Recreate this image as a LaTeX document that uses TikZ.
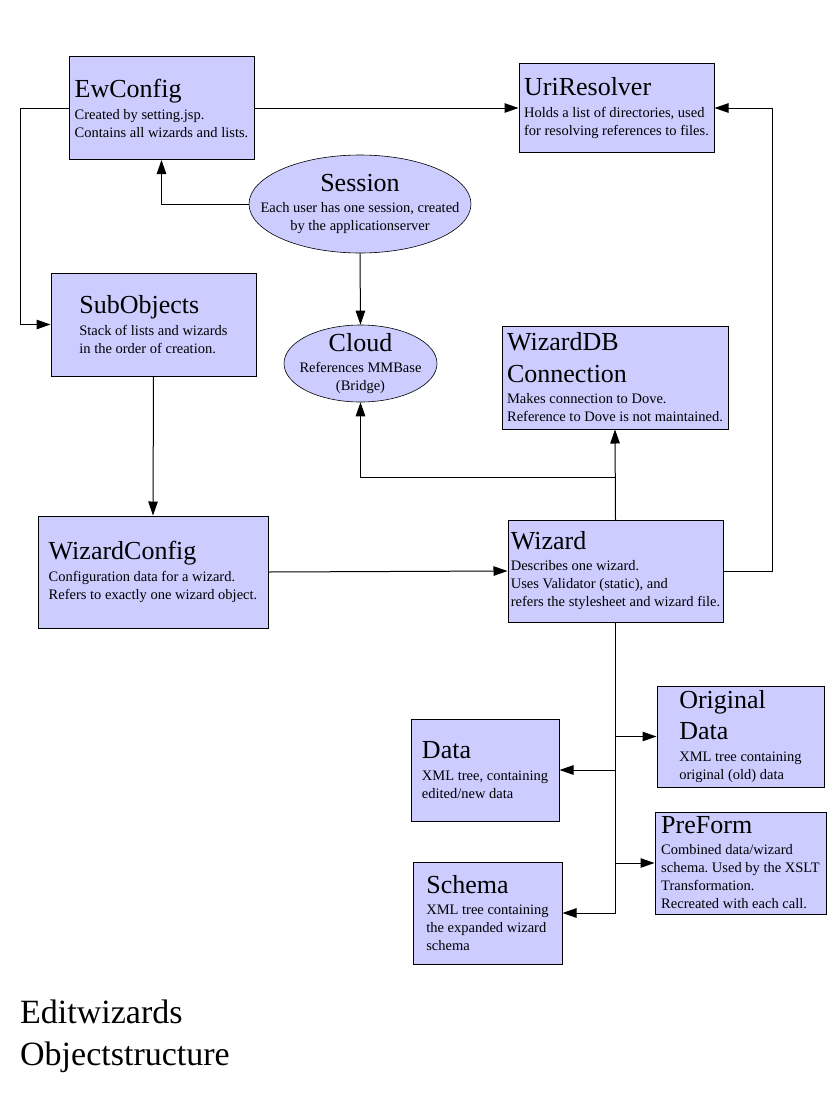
\documentclass[tikz,border=0pt]{standalone}
\usepackage{fontspec}
\setmainfont{Liberation Serif}
\usepackage{tikz}
\usetikzlibrary{positioning, arrows.meta, shapes.geometric, calc}
\definecolor{ink}{RGB}{0,0,0}
\definecolor{lavender}{RGB}{204,204,255}
\newcommand{\objtitle}[1]{{\fontsize{26}{32}\selectfont #1}}
\tikzset{
  box/.style    ={rectangle, draw=ink, line width=1pt, fill=lavender, inner sep=0pt,
                  align=left, font=\fontsize{14.5}{18}\selectfont},
  oval/.style   ={ellipse, draw=ink, line width=0.6pt, fill=lavender, inner sep=-25pt,
                  align=center, font=\fontsize{14.5}{18}\selectfont},
  arr/.style    ={->, >={Triangle[length=14pt, width=9.5pt]}, line width=1pt, color=ink},
  heading/.style={font=\fontsize{34}{42}\selectfont, align=left, inner sep=0pt, anchor=north west},
}

\begin{document}
\frenchspacing
\begin{tikzpicture}[x=1pt, y=-1pt]
\useasboundingbox (0,0) rectangle (839,1101);

\node[box, minimum width=185pt, minimum height=103pt] (ewconfig) at (161.5, 108)
  {\objtitle{EwConfig}\\[4pt]Created by setting.jsp.\\Contains all wizards and lists.};
\node[box, minimum width=195pt, minimum height=89pt] (uriresolver) at (616.5, 108)
  {\objtitle{UriResolver}\\[4pt]Holds a list of directories, used\\for resolving references to files.};
\node[oval, minimum width=222pt, minimum height=98pt] (session) at (360, 204)
  {\objtitle{Session}\\[3pt]Each user has one session, created\\by the applicationserver};
\node[box, minimum width=205pt, minimum height=103pt] (subobjects) at (153.5, 324.5)
  {\objtitle{SubObjects}\\[4pt]Stack of lists and wizards\\in the order of creation.};
\node[oval, minimum width=153pt, minimum height=77pt] (cloud) at (360.5, 363.5)
  {\objtitle{Cloud}\\[3pt]References MMBase\\(Bridge)};
\node[box, minimum width=226pt, minimum height=103pt] (wizarddb) at (615, 377.5)
  {\objtitle{WizardDB}\\[14pt]\objtitle{Connection}\\[3pt]Makes connection to Dove.\\Reference to Dove is not maintained.};
\node[box, minimum width=230pt, minimum height=112pt] (wizardconfig) at (153, 572)
  {\objtitle{WizardConfig}\\[4pt]Configuration data for a wizard.\\Refers to exactly one wizard object.};
\node[box, minimum width=215pt, minimum height=102pt] (wizard) at (615.5, 571)
  {\objtitle{Wizard}\\[3pt]Describes one wizard.\\Uses Validator (static), and\\refers the stylesheet and wizard file.};

\node[box, minimum width=167pt, minimum height=101pt] (originaldata) at (740.5, 736.5)
  {\objtitle{Original}\\[7.5pt]\objtitle{Data}\\[4pt]XML tree containing\\original (old) data};
\node[box, minimum width=148pt, minimum height=102pt] (data) at (485, 770)
  {\objtitle{Data}\\[4pt]XML tree, containing\\edited/new data};
\node[box, minimum width=171pt, minimum height=102pt] (preform) at (740.5, 863)
  {\objtitle{PreForm}\\[3pt]Combined data/wizard\\schema. Used by the XSLT\\Transformation.\\Recreated with each call.};
\node[box, minimum width=149pt, minimum height=102pt] (schema) at (487.5, 913)
  {\objtitle{Schema}\\[3pt]XML tree containing\\the expanded wizard\\schema};

\node[heading] (caption) at (20, 1000) {Editwizards\\Objectstructure};

% connections
\draw[arr] (ewconfig.east) -- (uriresolver.west);
\draw[arr] (ewconfig.west) -- ++(-48,0) |- (subobjects.west);
\draw[arr] (session.west) -| (ewconfig.south);
\draw[arr] (session.south) -- (cloud.north);
\draw[arr] (subobjects.south) -- (wizardconfig.north);
\draw[arr] (wizardconfig.east) -- (wizard.west);
\draw[arr] (wizard.north) -- (wizarddb.south);
\coordinate (fork) at ($(wizard.north)+(0,-42)$);
\draw[arr] (wizard.north) -- (fork) -| (cloud.south);
\draw[arr] (wizard.east) -- ++(49,0) |- (uriresolver.east);

\draw[arr] (wizard.south) |- (originaldata.west);
\draw[arr] (wizard.south) |- (data.east);
\draw[arr] (wizard.south) |- (preform.west);
\draw[arr] (wizard.south) |- (schema.east);
\end{tikzpicture}
\end{document}
